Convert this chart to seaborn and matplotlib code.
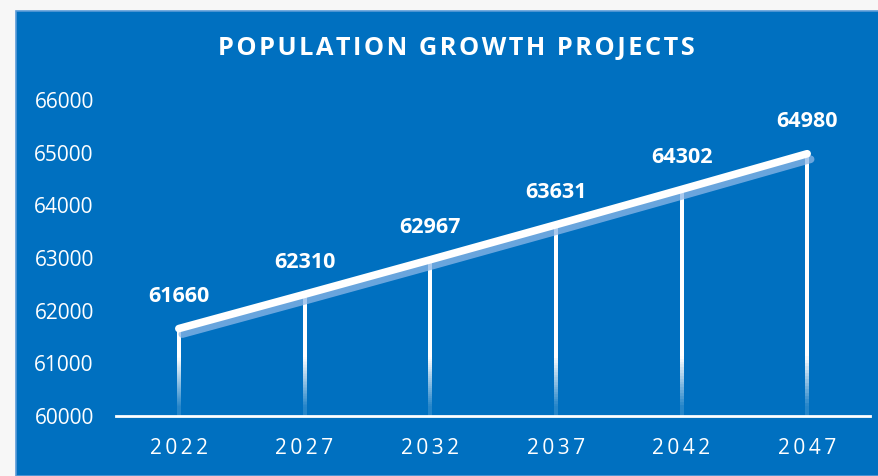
import matplotlib
matplotlib.use("Agg")
import matplotlib.pyplot as plt
import matplotlib.patheffects as pe
from matplotlib.patches import Rectangle
from matplotlib.collections import LineCollection
import seaborn as sns
import numpy as np
import pandas as pd

years = ["2022", "2027", "2032", "2037", "2042", "2047"]
population = [61660, 62310, 62967, 63631, 64302, 64980]
y_ticks = [60000, 61000, 62000, 63000, 64000, 65000, 66000]
title = "POPULATION GROWTH PROJECTS"

BLUE = "#0070C0"
sns.set_theme(style="white")
plt.rcParams["font.family"] = ["Open Sans", "DejaVu Sans"]

W, H = 879, 476
fig = plt.figure(figsize=(W / 100, H / 100), dpi=100, facecolor="#F7F7F7")
fig.patches.append(Rectangle((16 / W, 0), 1, (H - 11) / H, transform=fig.transFigure,
                             facecolor=BLUE, edgecolor="#5A9BD8", linewidth=1.2, zorder=-5))

ax = fig.add_axes([116 / W, (H - 416) / H, 754 / W, 316 / H])
ax.set_facecolor("none")
ax.set_zorder(2)

df = pd.DataFrame({"idx": np.arange(len(years)), "pop": population})

# drop lines with fade near the bottom
for i, v in zip(df["idx"], df["pop"]):
    ys = np.linspace(60000, v, 80)
    segs = [[(i, ys[k]), (i, ys[k + 1])] for k in range(len(ys) - 1)]
    alphas = np.clip((ys[:-1] - 60000) / 1100, 0.15, 1.0)
    cols = [(1, 1, 1, a) for a in alphas]
    ax.add_collection(LineCollection(segs, colors=cols, linewidths=1.6, zorder=2,
                                     capstyle="butt", antialiaseds=False))

sns.lineplot(data=df, x="idx", y="pop", ax=ax, color="white", linewidth=5.5,
             solid_capstyle="round", zorder=3,
             path_effects=[pe.SimpleLineShadow(offset=(2.5, -4), shadow_color="#8DB8E8",
                                               alpha=0.75),
                           pe.Normal()])

for i, v in zip(df["idx"], df["pop"]):
    ax.annotate(f"{v}", (i, v), xytext=(0, 23), textcoords="offset points",
                ha="center", va="center", color="white", fontsize=15.5,
                fontweight="bold")

ax.set_xlim(-0.5, len(years) - 0.5)
ax.set_ylim(60000, 66000)
ax.set_yticks(y_ticks)
ax.set_yticklabels([str(t) for t in y_ticks], color="white", fontsize=15)
ax.set_xticks(df["idx"])
ax.set_xticklabels(["\u2009".join(y) for y in years], color="white", fontsize=15)
ax.tick_params(axis="y", length=0, pad=16)
ax.tick_params(axis="x", length=0, pad=16)
ax.set_xlabel("")
ax.set_ylabel("")
for s in ["top", "right", "left"]:
    ax.spines[s].set_visible(False)
ax.spines["bottom"].set_color("white")
ax.spines["bottom"].set_linewidth(2)
ax.grid(False)

fig.text(456.5 / W, 1 - 48 / H, "\u200a".join(title), ha="center", va="center",
         color="white", fontsize=18.3, fontweight="bold")

fig.savefig("out.png", dpi=100, facecolor=fig.get_facecolor())
